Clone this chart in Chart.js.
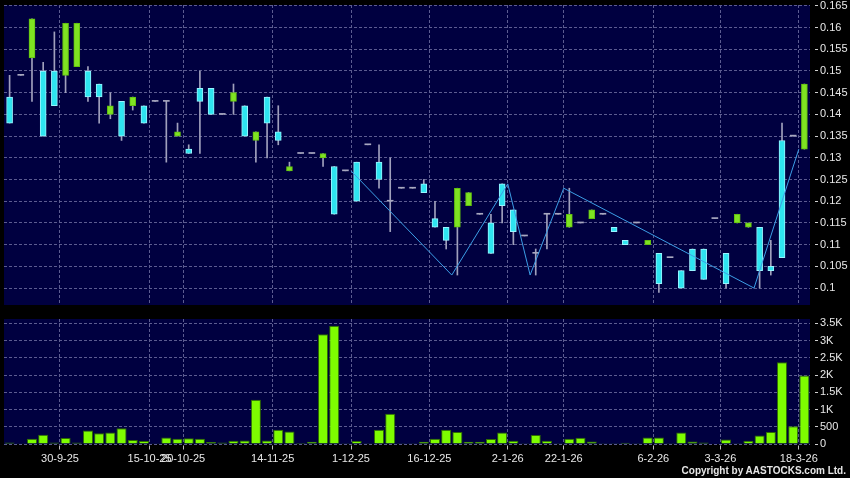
<!DOCTYPE html>
<html><head><meta charset="utf-8">
<script src="https://cdn.jsdelivr.net/npm/chart.js@4"></script>
<style>
html,body{margin:0;padding:0;background:#000;}
#wrap{position:relative;width:850px;height:478px;background:#000;overflow:hidden;}
#price{position:absolute;left:0;top:0;}
#vol{position:absolute;left:0;top:310px;}
#copy{position:absolute;right:4px;top:465px;font:bold 10px "Liberation Sans",Arial,sans-serif;color:#e6e6e6;white-space:nowrap;}
</style></head><body>
<div id="wrap">
<canvas id="price" width="850" height="305"></canvas>
<canvas id="vol" width="850" height="168"></canvas>
<div id="copy">Copyright by AASTOCKS.com Ltd.</div>
</div>
<script>
// ---- tick labels (date labels on the x axis, placed at these slots) ----
const tickSlots  = [5, 13, 16, 24, 31, 38, 45, 50, 58, 64, 71];
const tickLabels = ['30-9-25','15-10-25','20-10-25','14-11-25','1-12-25','16-12-25','2-1-26','22-1-26','6-2-26','3-3-26','18-3-26'];

// ---- price series (OHLC) ----
const openP  = [0.144,0.149,0.153,0.150,0.150,0.149,0.151,0.150,0.147,0.140,
                0.143,0.142,0.142,0.143,0.143,0.135,0.132,0.146,0.146,0.140,
                0.143,0.142,0.134,0.144,0.136,0.127,0.131,0.131,0.130,0.128,
                0.127,0.129,0.133,0.129,0.120,0.123,0.123,0.124,0.116,0.114,
                0.114,0.119,0.117,0.115,0.124,0.118,0.112,0.108,0.117,0.117,
                0.114,0.115,0.116,0.117,0.114,0.111,0.115,0.110,0.108,0.107,
                0.104,0.109,0.109,0.116,0.108,0.115,0.114,0.114,0.105,0.134,
                0.135,0.132];
const highP  = [0.149,0.149,0.162,0.152,0.159,0.161,0.161,0.151,0.147,0.145,
                0.143,0.144,0.142,0.143,0.143,0.138,0.133,0.150,0.146,0.140,
                0.147,0.142,0.136,0.144,0.142,0.129,0.131,0.131,0.131,0.128,
                0.127,0.129,0.133,0.133,0.130,0.123,0.123,0.125,0.120,0.114,
                0.123,0.122,0.117,0.117,0.124,0.118,0.112,0.109,0.117,0.117,
                0.123,0.115,0.118,0.117,0.114,0.111,0.115,0.111,0.108,0.107,
                0.104,0.109,0.109,0.116,0.108,0.117,0.115,0.114,0.111,0.138,
                0.135,0.147];
const lowP   = [0.138,0.149,0.143,0.135,0.142,0.145,0.151,0.143,0.138,0.139,
                0.134,0.141,0.138,0.143,0.129,0.135,0.131,0.131,0.140,0.140,
                0.140,0.135,0.129,0.130,0.133,0.127,0.131,0.131,0.128,0.117,
                0.127,0.120,0.133,0.123,0.113,0.123,0.123,0.122,0.114,0.109,
                0.103,0.119,0.117,0.108,0.115,0.110,0.112,0.103,0.109,0.117,
                0.114,0.115,0.116,0.117,0.113,0.110,0.115,0.110,0.099,0.107,
                0.100,0.104,0.102,0.116,0.100,0.115,0.114,0.100,0.103,0.107,
                0.135,0.132];
const closeP = [0.138,0.149,0.162,0.135,0.142,0.161,0.161,0.144,0.144,0.142,
                0.135,0.144,0.138,0.143,0.143,0.136,0.131,0.143,0.140,0.140,
                0.145,0.135,0.136,0.138,0.134,0.128,0.131,0.131,0.131,0.117,
                0.127,0.120,0.133,0.125,0.120,0.123,0.123,0.122,0.114,0.111,
                0.123,0.122,0.117,0.108,0.119,0.113,0.112,0.108,0.117,0.117,
                0.117,0.115,0.118,0.117,0.113,0.110,0.115,0.111,0.101,0.107,
                0.100,0.104,0.102,0.116,0.101,0.117,0.115,0.104,0.104,0.107,
                0.135,0.147];

// ---- volume series (thousands, "K") ----
const volumeK = [0.045,0.010,0.155,0.270,0.045,0.175,0.045,0.395,0.310,0.337,
                 0.455,0.115,0.090,0.010,0.190,0.155,0.165,0.155,0.058,0.045,
                 0.096,0.105,1.280,0.105,0.415,0.366,0.030,0.067,3.180,3.430,
                 0.005,0.090,0.005,0.415,0.880,0.005,0.005,0.067,0.155,0.415,
                 0.350,0.067,0.067,0.145,0.337,0.096,0.005,0.260,0.096,0.005,
                 0.155,0.183,0.076,0.005,0.005,0.038,0.005,0.192,0.192,0.005,
                 0.337,0.076,0.045,0.000,0.134,0.005,0.096,0.250,0.350,2.372,
                 0.512,1.985];

// ---- zigzag indicator pivots ----
const zigzagSlots  = [31, 40, 45, 47, 50, 67, 71];
const zigzagValues = [0.127, 0.103, 0.124, 0.103, 0.123, 0.100, 0.132];

// ---- axis ranges ----
const priceMin = 0.0961, priceMax = 0.1652, priceStep = 0.005;
const volMin = 0, volMax = 3.625, volStep = 0.5;

// ---- styling ----
const PLOT_BG = '#000040';
const GRID = '#5c5c90';
const TEXT = '#e8e8e8';
const UP = '#7fe322', UP_B = '#62c010';
const DOWN = '#2ee4f0', DOWN_B = '#9af4ff';
const FLAT = '#a8a8c0';
const WICK = '#a0a0bc';
const ZZ = '#3c9ee6';
const FONT = {family: '"Liberation Sans", Arial, sans-serif', size: 11};

const categories = Array.from({length: openP.length}, (_, i) => {
  const k = tickSlots.indexOf(i);
  return k >= 0 ? tickLabels[k] : '';
});
const halfSlot = 806 / categories.length / 2;

const plotBg = {
  id: 'plotBg',
  beforeDraw(chart) {
    const {ctx, chartArea: a} = chart;
    ctx.save();
    ctx.fillStyle = PLOT_BG;
    ctx.fillRect(a.left, a.top, a.right - a.left, a.bottom - a.top);
    ctx.restore();
  }
};

function xAxis(showLabels) {
  return {
    type: 'category',
    labels: categories,
    offset: true,
    grid: {
      offset: true,
      color: c => tickSlots.includes(c.index) ? GRID : 'transparent',
      lineWidth: 1,
      drawTicks: showLabels,
      tickLength: 6,
      tickColor: c => tickSlots.includes(c.index) ? '#bdbdbd' : 'transparent',
      tickBorderDash: [0, 1.5, 4, 30]
    },
    border: {display: false, dash: [3, 2]},
    ticks: {
      display: showLabels, autoSkip: false, maxRotation: 0, minRotation: 0,
      labelOffset: -halfSlot, color: TEXT, font: FONT, padding: 2
    },
    afterFit(s) { s.height = showLabels ? 34 : 0; s.paddingLeft = 0; s.paddingRight = 0; }
  };
}

function yAxis(min, max, step, fmt) {
  return {
    position: 'right', min, max,
    ticks: {stepSize: step, includeBounds: false, color: TEXT, font: FONT, padding: 2, callback: fmt},
    grid: {color: GRID, lineWidth: 1, drawTicks: true, tickLength: 8, tickColor: '#cfcfcf', tickBorderDash: [0, 5, 3, 30]},
    border: {display: false, dash: [3, 2]},
    afterFit(s) { s.width = 40; s.paddingTop = 0; s.paddingBottom = 0; }
  };
}

const dir = openP.map((o, i) => Math.sign(closeP[i] - o));
const bodyFill = dir.map(d => d > 0 ? UP : d < 0 ? DOWN : FLAT);
const bodyBorder = dir.map(d => d > 0 ? UP_B : d < 0 ? DOWN_B : FLAT);
const bodyBW = dir.map(d => d === 0 ? 0 : 1);

new Chart(document.getElementById('price'), {
  type: 'bar',
  data: {
    labels: categories,
    datasets: [
      {
        type: 'line', xAxisID: 'xz', yAxisID: 'y',
        data: zigzagSlots.map((k, j) => ({x: k - 0.5, y: zigzagValues[j]})),
        borderColor: ZZ, borderWidth: 1, pointRadius: 0, tension: 0, order: 1
      },
      {
        data: openP.map((o, i) => [o, closeP[i]]),
        backgroundColor: bodyFill, borderColor: bodyBorder, borderWidth: bodyBW,
        borderSkipped: false, barThickness: 6, minBarLength: 1, grouped: false, order: 2
      },
      {
        data: lowP.map((l, i) => [l, highP[i]]),
        backgroundColor: WICK, borderWidth: 0, barThickness: 1, grouped: false, order: 3
      }
    ]
  },
  options: {
    responsive: false, animation: false, devicePixelRatio: 1,
    layout: {padding: {left: 4, top: 5, right: 0, bottom: 0}},
    plugins: {legend: {display: false}, tooltip: {enabled: false}},
    scales: {
      x: xAxis(false),
      xz: {type: 'linear', display: false, offset: false, min: -0.5, max: categories.length - 0.5},
      y: yAxis(priceMin, priceMax, priceStep, v => String(Math.round(v * 1000) / 1000))
    }
  },
  plugins: [plotBg]
});

new Chart(document.getElementById('vol'), {
  type: 'bar',
  data: {
    labels: categories,
    datasets: [{
      data: volumeK,
      backgroundColor: '#7efc00', borderColor: '#2e6c00', borderWidth: 1,
      barPercentage: 0.9, categoryPercentage: 1.0
    }]
  },
  options: {
    responsive: false, animation: false, devicePixelRatio: 1,
    layout: {padding: {left: 4, top: 9, right: 0, bottom: 0}},
    plugins: {legend: {display: false}, tooltip: {enabled: false}},
    scales: {
      x: xAxis(true),
      y: yAxis(volMin, volMax, volStep, v => {
        const r = Math.round(v * 1000) / 1000;
        return r === 0 ? '0' : r >= 1 ? r + 'K' : String(Math.round(r * 1000));
      })
    }
  },
  plugins: [plotBg]
});
</script>
</body></html>
